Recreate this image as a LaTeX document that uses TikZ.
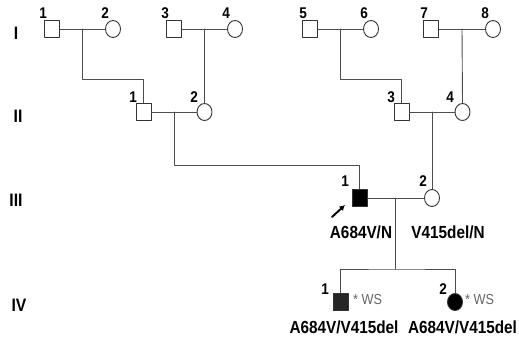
\documentclass[tikz,border=0pt]{standalone}
\usepackage{fontspec}
\newfontfamily\pedfont[FakeStretch=0.875]{Liberation Sans}
\usetikzlibrary{shapes.geometric,calc,arrows.meta}

\begin{document}
\begin{tikzpicture}[x=1pt,y=1pt,line cap=round,line join=round,
    male/.style={rectangle,draw=black!80,line width=0.9pt,minimum width=15pt,minimum height=17pt,inner sep=0pt},
    female/.style={ellipse,draw=black!80,line width=0.9pt,minimum width=15pt,minimum height=17pt,inner sep=0pt},
    link/.style={draw=black!70,line width=0.9pt},
    num/.style={anchor=south east,inner sep=0pt,font=\pedfont\bfseries\fontsize{15.5}{15.5}\selectfont},
    gen/.style={inner sep=0pt,font=\pedfont\bfseries\fontsize{18}{18}\selectfont},
    geno/.style={inner sep=0pt,font=\pedfont\bfseries\fontsize{17.5}{17.5}\selectfont},
    ws/.style={anchor=west,inner sep=0pt,text=black!60,font=\pedfont\fontsize{14.5}{14.5}\selectfont}]
  \useasboundingbox (0,0) rectangle (519,341);
  % generation labels
  \node[gen] (gI) at (16,308) {I};
  \node[gen] (gII) at (18,225) {II};
  \node[gen] (gIII) at (16,141) {III};
  \node[gen] (gIV) at (19,36) {IV};
  % generation I
  \node[male] (I1) at (52,312) {};
  \node[female] (I2) at (113,312) {};
  \node[male] (I3) at (174,312) {};
  \node[female] (I4) at (235,312) {};
  \node[male] (I5) at (310,312) {};
  \node[female] (I6) at (371,312) {};
  \node[male] (I7) at (431,312) {};
  \node[female] (I8) at (493,312) {};
  \node[num] (nI1) at (47,322) {1};
  \node[num] (nI2) at (109,322) {2};
  \node[num] (nI3) at (169,322) {3};
  \node[num] (nI4) at (230,322) {4};
  \node[num] (nI5) at (307,322) {5};
  \node[num] (nI6) at (368,322) {6};
  \node[num] (nI7) at (428,322) {7};
  \node[num] (nI8) at (489,322) {8};
  % generation II
  \node[male] (II1) at (143.5,229) {};
  \node[female] (II2) at (204.5,229) {};
  \node[male] (II3) at (401.5,229) {};
  \node[female] (II4) at (462.5,229) {};
  \node[num] (nII1) at (137,238) {1};
  \node[num] (nII2) at (198,238) {2};
  \node[num] (nII3) at (395,238) {3};
  \node[num] (nII4) at (454,238) {4};
  % generation III
  \node[male,fill=black] (III1) at (359.5,143) {};
  \node[female] (III2) at (432,143) {};
  \node[num] (nIII1) at (349,154) {1};
  \node[num] (nIII2) at (427,154) {2};
  \node[geno] (gtIII1) at (361,108.5) {A684V/N};
  \node[geno] (gtIII2) at (448,108.5) {V415del/N};
  % generation IV
  \node[male,fill=black!85] (IV1) at (340.5,39) {};
  \node[female,fill=black] (IV2) at (455,39) {};
  \node[num] (nIV1) at (329,46) {1};
  \node[num] (nIV2) at (447,46) {2};
  \node[ws] (wsIV1) at (353,41) {* WS};
  \node[ws] (wsIV2) at (465,41) {* WS};
  \node[geno] (gtIV1) at (344,14) {A684V/V415del};
  \node[geno] (gtIV2) at (462.5,14) {A684V/V415del};
  % matings and descent
  \draw[link] (I1) -- (I2);
  \draw[link] (I3) -- (I4);
  \draw[link] (I5) -- (I6);
  \draw[link] (I7) -- (I8);
  \draw[link] ($(I1)!0.5!(I2)$) -- ++(0,-50) -| (II1.north);
  \draw[link] ($(I3)!0.5!(I4)$) -- (II2.north);
  \draw[link] ($(I5)!0.5!(I6)$) -- ++(0,-50) -| (II3.north);
  \draw[link] ($(I7)!0.5!(I8)$) -- (II4.north);
  \draw[link] (II1) -- (II2);
  \draw[link] (II3) -- (II4);
  \draw[link] ($(II1)!0.5!(II2)$) -- ++(0,-53) -| (III1.north);
  \draw[link] ($(II3)!0.5!(II4)$) -- (III2.north);
  \draw[link] (III1) -- (III2);
  \draw[link] ($(III1)!0.5!(III2)$) -- ++(0,-71) coordinate (sib);
  \draw[link] (IV1.north) |- (sib) -| (IV2.north);
  % proband
  \coordinate (ptail) at (332,124);
  \coordinate (phead) at (345,136);
  \draw[line width=1.9pt,-{Latex[length=5.5pt,width=6pt]}] (ptail) -- (phead);
\end{tikzpicture}
\end{document}
